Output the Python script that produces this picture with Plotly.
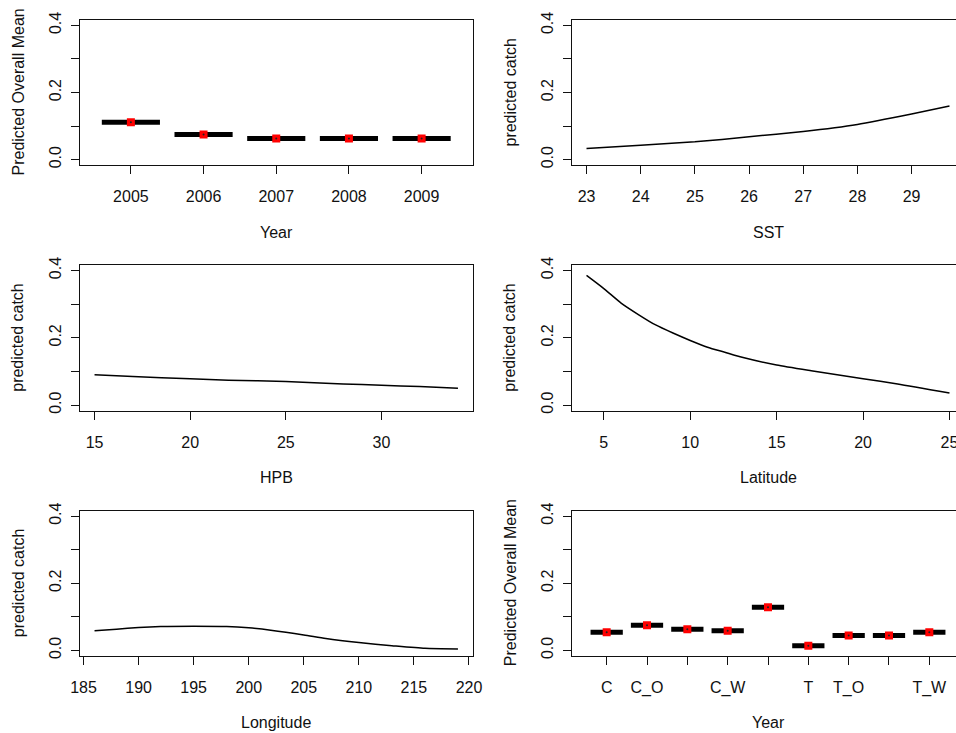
import plotly.graph_objects as go

# ---- data ----
year_labels = ["2005", "2006", "2007", "2008", "2009"]
year_means = [0.111, 0.075, 0.063, 0.063, 0.063]

sst_x = [23, 24, 25, 26, 27, 28, 29, 29.7]
sst_y = [0.033, 0.043, 0.053, 0.068, 0.084, 0.105, 0.136, 0.160]

hpb_x = [15, 17, 20, 22, 25, 28, 30, 32, 34]
hpb_y = [0.090, 0.085, 0.078, 0.074, 0.070, 0.063, 0.059, 0.055, 0.050]

lat_x = [4, 5, 6, 7, 8, 9, 10, 11, 12, 13, 15, 17, 20, 22, 25]
lat_y = [0.385, 0.346, 0.303, 0.269, 0.238, 0.214, 0.192, 0.172, 0.157,
         0.142, 0.119, 0.102, 0.078, 0.063, 0.036]

lon_x = [186, 188, 190, 192, 195, 198, 200, 202, 205, 207, 210, 213, 216, 219]
lon_y = [0.058, 0.063, 0.068, 0.071, 0.072, 0.071, 0.067, 0.060, 0.046,
         0.035, 0.023, 0.014, 0.006, 0.004]

area_labels = ["C", "C_O", "C_S", "C_W", "O", "T", "T_O", "T_S", "T_W"]
area_ticks = ["C", "C_O", "", "C_W", "", "T", "T_O", "", "T_W"]
area_means = [0.054, 0.075, 0.063, 0.058, 0.128, 0.014, 0.044, 0.044, 0.054]

y_tickvals = [0.0, 0.1, 0.2, 0.3, 0.4]
y_ticktext = ["0.0", "", "0.2", "", "0.4"]

W, H = 956, 733
FONT = "Liberation Sans, Arial, sans-serif"

# pixel boxes of the six panels (left, top, right, bottom); right column is cut by the page edge
COL_X = [(80, 472.5), (572, 956)]
ROW_Y = [(20, 165), (265, 410.5), (510.7, 655.7)]

fig = go.Figure()


def px_x(p):
    return p / W


def px_y(p):
    return 1 - p / H


def add_panel(n, col, row, xrange, xtickvals=None, xticktext=None, dtick=None,
              xtitle="", ytitle=""):
    (x0, x1), (y0, y1) = COL_X[col], ROW_Y[row]
    xa = "xaxis" if n == 1 else f"xaxis{n}"
    ya = "yaxis" if n == 1 else f"yaxis{n}"
    yref = "y" if n == 1 else f"y{n}"
    xref = "x" if n == 1 else f"x{n}"
    xax = dict(domain=[px_x(x0), px_x(x1)], range=xrange, anchor=yref,
               showgrid=False, zeroline=False, showline=True, linecolor="#111",
               linewidth=1.3, mirror=True, ticks="outside", ticklen=8,
               tickwidth=1.2, tickcolor="#111", ticklabelstandoff=9,
               automargin=False, ticklabeloverflow="allow",
               tickfont=dict(size=16, family=FONT, color="#111"))
    if xtickvals is not None:
        xax.update(tickmode="array", tickvals=xtickvals, ticktext=xticktext)
    else:
        xax.update(tickmode="linear", tick0=0, dtick=dtick)
    yax = dict(domain=[px_y(y1), px_y(y0)], range=[-0.016, 0.416], anchor=xref,
               showgrid=False, zeroline=False, showline=True, linecolor="#111",
               linewidth=1.3, mirror=(col == 0), ticks="outside", ticklen=8,
               tickwidth=1.2, tickcolor="#111", tickmode="array",
               tickvals=y_tickvals, ticktext=y_ticktext, tickangle=-90,
               ticklabelstandoff=3, automargin=False,
               tickfont=dict(size=16, family=FONT, color="#111"))
    fig.update_layout({xa: xax, ya: yax})
    # axis titles, centred on the full (uncut) panel width
    cx = (x0 + (x0 + 392)) / 2
    fig.add_annotation(text=xtitle, xref="paper", yref="paper", x=px_x(cx),
                       y=px_y(y1 + 67), xanchor="center", yanchor="middle",
                       showarrow=False, font=dict(size=16, family=FONT, color="#111"))
    fig.add_annotation(text=ytitle, xref="paper", yref="paper", x=px_x(x0 - 62),
                       y=px_y((y0 + y1) / 2), xanchor="center", yanchor="middle",
                       textangle=-90, showarrow=False,
                       font=dict(size=16, family=FONT, color="#111"))
    return xref, yref


def add_means(xref, yref, values):
    pos = list(range(1, len(values) + 1))
    fig.add_trace(go.Scatter(
        x=pos, y=values, xaxis=xref, yaxis=yref, mode="markers",
        marker=dict(symbol="square", size=8, color="#ff0000"),
        error_x=dict(type="constant", value=0.4, thickness=5, width=0, color="black"),
        hoverinfo="y"))
    fig.add_trace(go.Scatter(
        x=pos, y=values, xaxis=xref, yaxis=yref, mode="markers",
        marker=dict(symbol="circle", size=2, color="#222"), hoverinfo="skip"))


def add_curve(xref, yref, xs, ys):
    fig.add_trace(go.Scatter(
        x=xs, y=ys, xaxis=xref, yaxis=yref, mode="lines",
        line=dict(color="black", width=1.5, shape="spline", smoothing=0.6)))


def cut_range(lo, hi):
    # R pads the data range by 4% on each side; the right column is cut at the page edge
    pad = (hi - lo) * 0.04
    a, b = lo - pad, hi + pad
    return [a, a + (b - a) * (956 - 572) / 392]


def full_range(lo, hi):
    pad = (hi - lo) * 0.04
    return [lo - pad, hi + pad]


# 1. Year
xr, yr = add_panel(1, 0, 0, full_range(0.5, len(year_labels) + 0.5),
                   xtickvals=list(range(1, len(year_labels) + 1)), xticktext=year_labels,
                   xtitle="Year", ytitle="Predicted Overall Mean")
add_means(xr, yr, year_means)

# 2. SST
xr, yr = add_panel(2, 1, 0, cut_range(min(sst_x), max(sst_x)), dtick=1,
                   xtitle="SST", ytitle="predicted catch")
add_curve(xr, yr, sst_x, sst_y)

# 3. HPB
xr, yr = add_panel(3, 0, 1, full_range(min(hpb_x), max(hpb_x)), dtick=5,
                   xtitle="HPB", ytitle="predicted catch")
add_curve(xr, yr, hpb_x, hpb_y)

# 4. Latitude
xr, yr = add_panel(4, 1, 1, cut_range(min(lat_x), max(lat_x)), dtick=5,
                   xtitle="Latitude", ytitle="predicted catch")
add_curve(xr, yr, lat_x, lat_y)

# 5. Longitude
xr, yr = add_panel(5, 0, 2, full_range(min(lon_x), max(lon_x)), dtick=5,
                   xtitle="Longitude", ytitle="predicted catch")
add_curve(xr, yr, lon_x, lon_y)

# 6. Area (labelled Year in the original)
xr, yr = add_panel(6, 1, 2, cut_range(0.5, len(area_labels) + 0.5),
                   xtickvals=list(range(1, len(area_labels) + 1)), xticktext=area_ticks,
                   xtitle="Year", ytitle="Predicted Overall Mean")
add_means(xr, yr, area_means)

fig.update_layout(
    width=W, height=H, margin=dict(l=0, r=0, t=0, b=0, pad=0, autoexpand=False),
    paper_bgcolor="white", plot_bgcolor="white", showlegend=False,
    font=dict(family=FONT, size=16, color="#111"),
)

fig.write_html("out.html", config={"displayModeBar": False})

# drop the default 8px body margin so the figure fills the window exactly
with open("out.html", encoding="utf-8") as f:
    page = f.read()
page = page.replace("<head>", "<head><style>html,body{margin:0;padding:0;overflow:hidden;background:white;}</style>", 1)
with open("out.html", "w", encoding="utf-8") as f:
    f.write(page)
